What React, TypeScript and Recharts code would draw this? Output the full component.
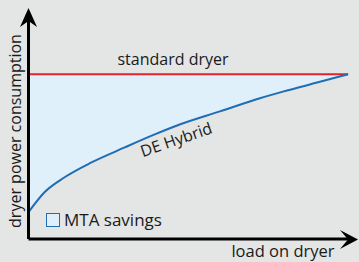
import { ComposedChart, Area, Line, XAxis, YAxis, Legend } from 'recharts'

// load on dryer (arbitrary 0..100 scale)
const load = [0, 5, 11.3, 19.7, 30.1, 39.5, 47.3, 59.9, 72.4, 79.6, 90.3, 100]
// DE Hybrid consumption, standard dryer = 100
const hybrid = [16.3, 28.4, 37.5, 46.5, 55.6, 63.5, 69.5, 77.5, 85.5, 89.5, 95, 100]
const standard = [100, 100, 100, 100, 100, 100, 100, 100, 100, 100, 100, 100]

const data = load.map((x, i) => ({
  x,
  hybrid: hybrid[i],
  standard: standard[i],
  savings: [hybrid[i], standard[i]],
}))

const FONT = '"Open Sans", sans-serif'
const INK = '#1a1a1a'

function SavingsLegend() {
  return (
    <div style={{ display: 'flex', alignItems: 'center', gap: 4, fontFamily: FONT, fontSize: 17, color: INK }}>
      <span style={{ width: 12, height: 12, border: '1.5px solid #1f6db3', background: '#dff0fa' }} />
      <span>MTA savings</span>
    </div>
  )
}

export default function App() {
  return (
    <div style={{ position: 'absolute', left: 0, top: 0, width: 359, height: 262, background: '#e4e5e5' }}>
      <ComposedChart width={359} height={262} data={data} margin={{ top: 20, right: 9, bottom: 22, left: 27.5 }}>
        <XAxis type="number" dataKey="x" domain={[0, 100.6]} height={1} tick={false} tickLine={false}
          axisLine={{ stroke: '#000', strokeWidth: 3 }} />
        <YAxis type="number" domain={[0, 133]} width={1} tick={false} tickLine={false}
          axisLine={{ stroke: '#000', strokeWidth: 3 }} />
        <Area dataKey="savings" name="MTA savings" type="monotone" fill="#dff0fa" fillOpacity={1}
          stroke="none" isAnimationActive={false} />
        <Line dataKey="standard" type="linear" stroke="#e3222d" strokeWidth={2} dot={false}
          legendType="none" isAnimationActive={false} />
        <Line dataKey="hybrid" type="monotone" stroke="#1f6db3" strokeWidth={2} dot={false}
          legendType="none" isAnimationActive={false} />
        <Legend content={<SavingsLegend />} layout="horizontal" verticalAlign="middle" align="center"
          wrapperStyle={{ left: 46, top: 208, width: 'auto' }} />
      </ComposedChart>
      <svg width={359} height={262} style={{ position: 'absolute', left: 0, top: 0, pointerEvents: 'none' }}>
        <polygon points="28.5,8 37,27 28.5,21 20,27" fill="#000" />
        <polygon points="358,239.5 340,230 348,239.5 340,249" fill="#000" />
        <g fontFamily={FONT} fontSize={16} fill={INK}>
          <text x={173} y={65} textAnchor="middle">standard dryer</text>
          <text x={283} y={257} textAnchor="middle" fontSize={16.5}>load on dryer</text>
          <text transform="translate(21,131) rotate(-90)" textAnchor="middle">dryer power consumption</text>
          <text transform="translate(178,145) rotate(-19)" textAnchor="middle">DE Hybrid</text>
        </g>
      </svg>
    </div>
  )
}
